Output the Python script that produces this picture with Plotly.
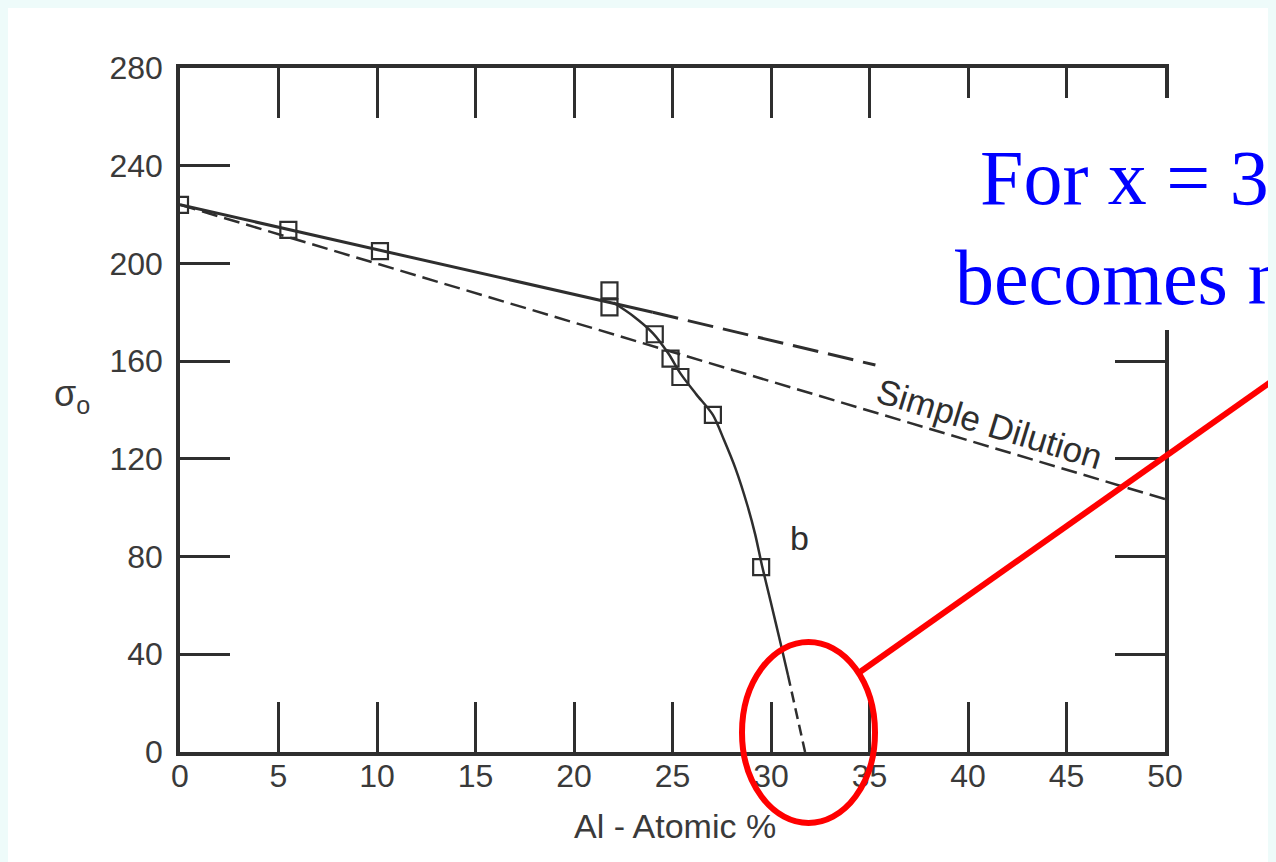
import plotly.graph_objects as go

# ---------------- data ----------------
# measured saturation moment sigma_o vs Al content (open squares)
marker_x = [0, 5.5, 10.15, 21.8, 21.8, 24.1, 24.9, 25.4, 27.05, 29.5]
marker_y = [224, 213.7, 205, 189, 182, 171, 161, 153.5, 138, 75.7]

# solid line through the low-Al points and its long-dashed extrapolation
solid_x = [0, 24]
solid_y = [224, 180]
extrap_x = [24, 35.3]
extrap_y = [180, 158.4]

# "Simple Dilution" line
dilution_x = [0, 50]
dilution_y = [224, 103.5]

# curve b (solid part) and its dashed end
curve_b_x = [22, 23, 24, 24.8, 25.4, 26.2, 27.05, 27.6, 28.2, 28.8, 29.2, 29.55, 30.0, 30.5, 30.86]
curve_b_y = [184, 178.5, 171.5, 163, 155, 146.5, 138, 128, 116, 101, 89, 76, 61, 44, 31.5]
curve_b_end_x = [30.86, 31.73]
curve_b_end_y = [31.5, 0]

x_ticks = [0, 5, 10, 15, 20, 25, 30, 35, 40, 45, 50]
y_ticks = [0, 40, 80, 120, 160, 200, 240, 280]

# ---------------- layout geometry ----------------
OFF = 8                      # page body margin around the figure
SCREEN_W, SCREEN_H = 1276, 862
W, H = SCREEN_W - OFF, SCREEN_H - OFF
L, R, T, B = 180, 1165, 68, 752  # plot-area edges in screen pixels


def px(x):
    return (x - L) / (R - L)


def py(y):
    return (B - y) / (B - T)


INK = "#2e2e2e"
LABEL = "#3a3a3a"
SANS = "Liberation Sans, Arial, sans-serif"
SERIF = "Liberation Serif, Times New Roman, serif"

fig = go.Figure()

fig.add_trace(go.Scatter(x=dilution_x, y=dilution_y, mode="lines",
                         line=dict(color=INK, width=2.5, dash="16px,7px"),
                         showlegend=False, hoverinfo="skip"))
fig.add_trace(go.Scatter(x=solid_x, y=solid_y, mode="lines",
                         line=dict(color=INK, width=3),
                         showlegend=False, hoverinfo="skip"))
fig.add_trace(go.Scatter(x=extrap_x, y=extrap_y, mode="lines",
                         line=dict(color=INK, width=3, dash="26px,10px"),
                         showlegend=False, hoverinfo="skip"))
fig.add_trace(go.Scatter(x=curve_b_x, y=curve_b_y, mode="lines",
                         line=dict(color=INK, width=2.5, shape="spline", smoothing=0.8),
                         showlegend=False, hoverinfo="skip"))
fig.add_trace(go.Scatter(x=curve_b_end_x, y=curve_b_end_y, mode="lines",
                         line=dict(color=INK, width=2.5, dash="11px,6px"),
                         showlegend=False, hoverinfo="skip"))
fig.add_trace(go.Scatter(x=marker_x, y=marker_y, mode="markers",
                         marker=dict(symbol="square-open", size=16, color=INK,
                                     line=dict(width=2.2, color=INK)),
                         showlegend=False, hoverinfo="skip"))

axis_common = dict(
    ticks="inside", ticklen=50, tickwidth=2.5, tickcolor=INK,
    showline=True, linewidth=3.5, linecolor=INK, mirror="ticks",
    showgrid=False, zeroline=False,
    tickfont=dict(family=SANS, size=32, color=LABEL),
)

fig.update_xaxes(range=[0, 50], tickmode="array", tickvals=x_ticks,
                 ticktext=[str(v) for v in x_ticks], ticklabelstandoff=-7,
                 **axis_common)
fig.update_yaxes(range=[0, 280], tickmode="array", tickvals=y_ticks,
                 ticktext=[str(v) for v in y_ticks], ticklabelstandoff=7,
                 **axis_common)

shapes = [
    # white text box of the slide covering part of the frame
    dict(type="rect", xref="paper", yref="paper", layer="above",
         x0=px(935), x1=px(SCREEN_W + 20), y0=py(330), y1=py(98),
         fillcolor="white", line=dict(width=0)),
    # red ellipse
    dict(type="circle", xref="paper", yref="paper", layer="above",
         x0=px(742), x1=px(875), y0=py(823), y1=py(642),
         line=dict(color="#ff0000", width=6)),
    # red pointer line
    dict(type="line", xref="paper", yref="paper", layer="above",
         x0=px(860), y0=py(672), x1=px(1292), y1=py(367),
         line=dict(color="#ff0000", width=6)),
]

annotations = [
    dict(text="Al - Atomic %", xref="paper", yref="paper", x=px(675), y=py(826),
         xanchor="center", yanchor="middle", showarrow=False,
         font=dict(family=SANS, size=34, color=LABEL)),
    dict(text="σ<sub>o</sub>", xref="paper", yref="paper", x=px(72), y=py(396),
         xanchor="center", yanchor="middle", showarrow=False,
         font=dict(family=SANS, size=36, color=LABEL)),
    dict(text="b", x=31.47, y=87.6, xref="x", yref="y",
         xanchor="center", yanchor="middle", showarrow=False,
         font=dict(family=SANS, size=34, color=INK)),
    dict(text="Simple Dilution", xref="paper", yref="paper", x=px(989), y=py(423),
         xanchor="center", yanchor="middle", showarrow=False, textangle=17,
         font=dict(family=SANS, size=35, color=INK)),
    dict(text="For x = 32%, the alloy", xref="paper", yref="paper", x=px(978), y=py(177),
         xanchor="left", yanchor="middle", showarrow=False,
         font=dict(family=SERIF, size=78, color="#0000ff")),
    dict(text="becomes non-magnetic", xref="paper", yref="paper", x=px(953), y=py(277),
         xanchor="left", yanchor="middle", showarrow=False,
         font=dict(family=SERIF, size=78, color="#0000ff")),
]

fig.update_layout(
    width=W, height=H,
    margin=dict(l=L - OFF, r=SCREEN_W - R, t=T - OFF, b=SCREEN_H - B, pad=0),
    paper_bgcolor="white",
    plot_bgcolor="white",
    shapes=shapes,
    annotations=annotations,
    showlegend=False,
)

fig.write_html("out.html", post_script="document.body.style.background='#eefbfa';")
